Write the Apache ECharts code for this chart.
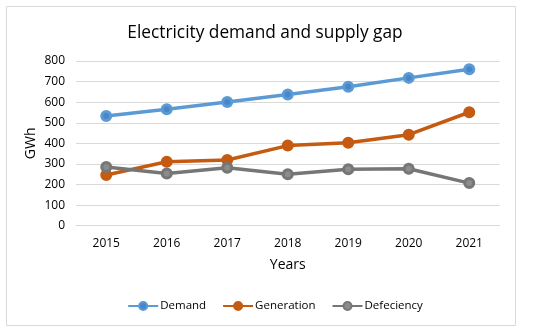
<!DOCTYPE html>
<html><head><meta charset="utf-8">
<script src="https://cdn.jsdelivr.net/npm/echarts@6/dist/echarts.min.js"></script>
<style>html,body{margin:0;padding:0;background:#fff}#c{width:550px;height:333px}</style>
</head><body><div id="c"></div>
<script>
const years = ['2015','2016','2017','2018','2019','2020','2021'];
const demand = [533, 566, 601, 637, 675, 718, 760];
const generation = [246, 311, 319, 389, 403, 442, 551];
const defeciency = [285, 254, 282, 250, 274, 277, 207];
const yTicks = [0, 800, 100];

const font = 'Open Sans';
const chart = echarts.init(document.getElementById('c'), null, {renderer: 'canvas'});
function ser(name, data, line, fill, border) {
  return {
    name, type: 'line', data,
    symbol: 'circle', symbolSize: 9,
    lineStyle: {color: line, width: 3.5},
    itemStyle: {color: fill, borderColor: border, borderWidth: 3},
    emphasis: {disabled: true}
  };
}
chart.setOption({
  animation: false,
  graphic: [{type: 'rect', shape: {x: 6.5, y: 6.5, width: 509, height: 319}, style: {fill: 'none', stroke: '#d9d9d9', lineWidth: 1}}],
  title: {text: 'Electricity demand and supply gap', left: 260, top: 20, textAlign: 'center',
    textStyle: {fontFamily: font, fontSize: 17.3, fontWeight: 'normal', color: '#000'}},
  grid: {left: 76, right: 50.5, top: 61, bottom: 107.3},
  xAxis: {type: 'category', data: years, boundaryGap: true,
    name: 'Years', nameLocation: 'middle', nameGap: 32, nameMoveOverlap: false,
    nameTextStyle: {fontFamily: font, fontSize: 14, color: '#000'},
    axisLine: {lineStyle: {color: '#d9d9d9'}}, axisTick: {show: false},
    axisLabel: {fontFamily: font, fontSize: 12, color: '#000', margin: 12}},
  yAxis: {type: 'value', min: yTicks[0], max: yTicks[1], interval: yTicks[2],
    name: 'GWh', nameLocation: 'middle', nameGap: 38, nameMoveOverlap: false,
    nameTextStyle: {fontFamily: font, fontSize: 14, color: '#000'},
    axisLine: {show: false}, axisTick: {show: false},
    splitLine: {lineStyle: {color: '#d9d9d9'}},
    axisLabel: {fontFamily: font, fontSize: 12, color: '#000', margin: 11}},
  legend: {bottom: 16, left: 'center', itemWidth: 30, itemHeight: 10, itemGap: 16,
    textStyle: {fontFamily: font, fontSize: 11.5, color: '#000', padding: [0, 0, 0, -3]},
    data: ['Demand', 'Generation', 'Defeciency']},
  series: [
    ser('Demand', demand, '#5B9BD5', '#4a85c8', '#5B9BD5'),
    ser('Generation', generation, '#C55A11', '#C55A11', '#C55A11'),
    ser('Defeciency', defeciency, '#767676', '#8c8c8c', '#767676')
  ]
});
</script></body></html>
